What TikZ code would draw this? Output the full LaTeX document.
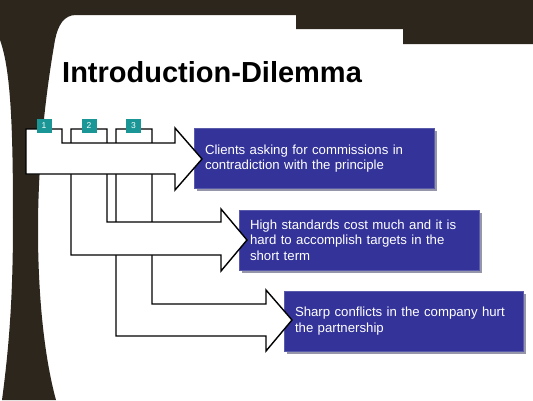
\documentclass[tikz,border=0pt]{standalone}
\usepackage{fontspec}
\setmainfont{Liberation Sans}
\usepackage{tikz}
\usepackage{xcolor}
\usetikzlibrary{shadows}
\definecolor{bgdark}{RGB}{45,38,28}
\definecolor{boxblue}{RGB}{51,51,153}
\definecolor{boxedge}{RGB}{90,90,170}
\definecolor{shadowgray}{RGB}{150,150,170}
\definecolor{tabteal}{RGB}{26,150,150}

\begin{document}
\begin{tikzpicture}[
  x=1pt, y=-1pt,
  box/.style={fill=boxblue, draw=boxedge, line width=0.6pt, minimum width=240pt, minimum height=60pt,
    text width=218pt, inner xsep=11pt, align=left, text=white,
    font=\fontsize{13.2}{15.5}\selectfont,
    drop shadow={shadow xshift=2.5pt, shadow yshift=-2.5pt, fill=shadowgray, opacity=1}},
  pipe/.style={draw=black, fill=white, line width=1.4pt, line join=miter},
  tabnum/.style={fill=tabteal, minimum width=15pt, minimum height=14pt, inner sep=0pt,
    text=white, font=\fontsize{8.5}{10}\selectfont}
]
\useasboundingbox (0,0) rectangle (533,400);
\fill[white] (0,0) rectangle (533,400);
% dark frame: top band and pillar
\fill[bgdark] (0,0) -- (533,0) -- (533,44) -- (403,44) -- (403,29) -- (296,29) -- (296,15) -- (76,15)
  .. controls (64,15) and (58,25) .. (55,40)
  .. controls (48,80) and (38,150) .. (38,230)
  .. controls (38,300) and (45,360) .. (56,400)
  -- (2,400)
  .. controls (10,340) and (13,290) .. (13,220)
  .. controls (13,130) and (11,70) .. (0,40) -- cycle;

\node[anchor=base west, inner sep=0pt, font=\bfseries\fontsize{29}{34}\selectfont] (title) at (62,82) {Introduction-Dilemma};

% text boxes
\node[box] (box1) at (314,158.5) {Clients asking for commissions in\\contradiction with the principle};
\node[box] (box2) at (359,240) {High standards cost much and it is\\hard to accomplish targets in the\\short term};
\node[box, minimum width=239pt, text width=217pt] (box3) at (403.5,321) {Sharp conflicts in the company hurt\\the partnership};

% branching arrows
\draw[pipe] (116,129) -- (152,129) -- (152,304) -- (266,304) -- (266,290) -- (292,320)
  -- (266,351) -- (266,336) -- (116,336) -- cycle;
\draw[pipe] (71,129) -- (107,129) -- (107,222) -- (221,222) -- (221,209) -- (247,240)
  -- (221,271) -- (221,255) -- (71,255) -- cycle;
\draw[pipe] (26,129) -- (62,129) -- (62,143) -- (175,143) -- (175,128) -- (202,159)
  -- (175,190) -- (175,174) -- (26,174) -- cycle;

% numbered tabs
\node[tabnum] (tab1) at (44,125.5) {1};
\node[tabnum] (tab2) at (89,125.5) {2};
\node[tabnum] (tab3) at (133.5,125.5) {3};
\end{tikzpicture}
\end{document}
